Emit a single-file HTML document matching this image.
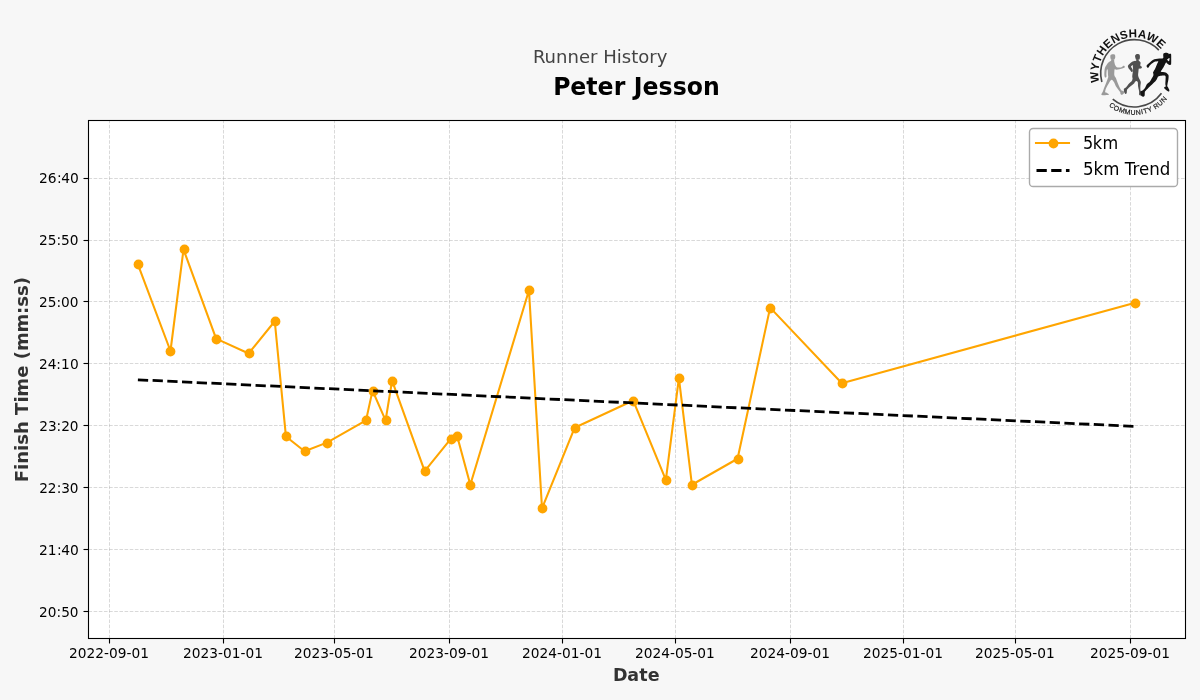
<!DOCTYPE html>
<html lang="en"><head><meta charset="utf-8"><title>Runner History - Peter Jesson</title>
<style>html,body{margin:0;padding:0;background:#f7f7f7;overflow:hidden}body{width:1200px;height:700px}svg{display:block;position:absolute;left:0;top:0}text{font-family:'DejaVu Sans','Liberation Sans',sans-serif}</style></head><body>
<svg width="1200" height="700" viewBox="0 0 1200 700">
<rect x="0" y="0" width="1200" height="700" fill="#f7f7f7"/>
<rect x="88.5" y="120.5" width="1097" height="518" fill="#ffffff"/>
<g id="grid" fill="none" stroke="#b0b0b0" stroke-opacity="0.5" stroke-width="0.97" stroke-dasharray="3.5972 1.5556">
<path d="M109.5 638.5 V120.5"/>
<path d="M223.5 638.5 V120.5"/>
<path d="M334.5 638.5 V120.5"/>
<path d="M449.5 638.5 V120.5"/>
<path d="M562.5 638.5 V120.5"/>
<path d="M675.5 638.5 V120.5"/>
<path d="M790.5 638.5 V120.5"/>
<path d="M903.5 638.5 V120.5"/>
<path d="M1015.5 638.5 V120.5"/>
<path d="M1130.5 638.5 V120.5"/>
<path d="M88.5 178.5 H1185.5"/>
<path d="M88.5 240.5 H1185.5"/>
<path d="M88.5 301.5 H1185.5"/>
<path d="M88.5 363.5 H1185.5"/>
<path d="M88.5 425.5 H1185.5"/>
<path d="M88.5 487.5 H1185.5"/>
<path d="M88.5 549.5 H1185.5"/>
<path d="M88.5 611.5 H1185.5"/>
</g>
<g id="ticks" stroke="#000" stroke-width="1.11" fill="none">
<path d="M109.5 638.64 v4.86"/>
<path d="M223.5 638.64 v4.86"/>
<path d="M334.5 638.64 v4.86"/>
<path d="M449.5 638.64 v4.86"/>
<path d="M562.5 638.64 v4.86"/>
<path d="M675.5 638.64 v4.86"/>
<path d="M790.5 638.64 v4.86"/>
<path d="M903.5 638.64 v4.86"/>
<path d="M1015.5 638.64 v4.86"/>
<path d="M1130.5 638.64 v4.86"/>
<path d="M88.36 178.5 h-4.86"/>
<path d="M88.36 240.5 h-4.86"/>
<path d="M88.36 301.5 h-4.86"/>
<path d="M88.36 363.5 h-4.86"/>
<path d="M88.36 425.5 h-4.86"/>
<path d="M88.36 487.5 h-4.86"/>
<path d="M88.36 549.5 h-4.86"/>
<path d="M88.36 611.5 h-4.86"/>
</g>
<g id="xticklabels">
<text transform="translate(69.05 658) scale(0.99 1)" font-size="13.89px" fill="#000">2022-09-01</text>
<text transform="translate(183.05 658) scale(0.99 1)" font-size="13.89px" fill="#000">2023-01-01</text>
<text transform="translate(293.98 658) scale(0.991 1)" font-size="13.89px" fill="#000" dx="0 0 0 0 0 0 0 -0.2 0 0">2023-05-01</text>
<text transform="translate(409.02 658) scale(0.99 1)" font-size="13.89px" fill="#000">2023-09-01</text>
<text transform="translate(522.02 658) scale(0.99 1)" font-size="13.89px" fill="#000">2024-01-01</text>
<text transform="translate(634.98 658) scale(0.991 1)" font-size="13.89px" fill="#000" dx="0 0 0 0 0 0 0 -0.2 0 0">2024-05-01</text>
<text transform="translate(750.02 658) scale(0.99 1)" font-size="13.89px" fill="#000">2024-09-01</text>
<text transform="translate(863.02 658) scale(0.99 1)" font-size="13.89px" fill="#000">2025-01-01</text>
<text transform="translate(974.98 658) scale(0.991 1)" font-size="13.89px" fill="#000" dx="0 0 0 0 0 0 0 -0.2 0 0">2025-05-01</text>
<text transform="translate(1090.05 658) scale(0.99 1)" font-size="13.89px" fill="#000">2025-09-01</text>
</g>
<g id="yticklabels">
<text transform="translate(38.92 183) scale(0.997 1)" font-size="13.89px" fill="#000" dx="0 0 0.4 -0.4 0">26:40</text>
<text transform="translate(38.92 245) scale(0.99 1)" font-size="13.89px" fill="#000" dx="0 0 0.2 -0.2 0">25:50</text>
<text transform="translate(39.05 307) scale(0.987 1)" font-size="13.89px" fill="#000" dx="0 -0.05 0 0 0">25:00</text>
<text transform="translate(38.95 369) scale(0.989 1)" font-size="13.89px" fill="#000" dx="0 0 -0.1 0 0.4">24:10</text>
<text transform="translate(39.15 431) scale(0.985 1)" font-size="13.89px" fill="#000" dx="0 0.2 -0.2 0 0">23:20</text>
<text transform="translate(39.15 493) scale(0.985 1)" font-size="13.89px" fill="#000" dx="0 0 0.2 -0.2 0">22:30</text>
<text transform="translate(38.92 555) scale(0.997 1)" font-size="13.89px" fill="#000" dx="0 0 0.4 -0.4 0">21:40</text>
<text transform="translate(39 617) scale(0.984 1)" font-size="13.89px" fill="#000" dx="0 0 0.2 0 0">20:50</text>
</g>
<g id="series">
<path d="M137.89 264.31 L170.48 351.00 L183.52 249.45 L216.11 338.61 L248.70 353.47 L274.77 321.27 L285.94 436.45 L304.57 451.31 L326.91 442.64 L366.02 420.35 L372.54 390.62 L385.58 420.35 L392.09 380.72 L424.68 471.12 L450.76 438.92 L457.27 436.45 L470.31 484.74 L528.97 290.31 L542.01 508.27 L574.60 427.78 L633.26 400.53 L665.85 479.79 L678.89 378.24 L691.92 484.74 L737.55 458.74 L770.14 307.65 L841.84 383.19 L1135.15 302.70" fill="none" stroke="#ffa500" stroke-width="2.08" stroke-linejoin="round" stroke-linecap="square"/>
<circle cx="138.5" cy="264.5" r="4.89" fill="#ffa500"/>
<circle cx="170.5" cy="351.5" r="4.89" fill="#ffa500"/>
<circle cx="184.5" cy="249.5" r="4.89" fill="#ffa500"/>
<circle cx="216.5" cy="339.5" r="4.89" fill="#ffa500"/>
<circle cx="249.5" cy="353.5" r="4.89" fill="#ffa500"/>
<circle cx="275.5" cy="321.5" r="4.89" fill="#ffa500"/>
<circle cx="286.5" cy="436.5" r="4.89" fill="#ffa500"/>
<circle cx="305.5" cy="451.5" r="4.89" fill="#ffa500"/>
<circle cx="327.5" cy="443.5" r="4.89" fill="#ffa500"/>
<circle cx="366.5" cy="420.5" r="4.89" fill="#ffa500"/>
<circle cx="373.5" cy="391.5" r="4.89" fill="#ffa500"/>
<circle cx="386.5" cy="420.5" r="4.89" fill="#ffa500"/>
<circle cx="392.5" cy="381.5" r="4.89" fill="#ffa500"/>
<circle cx="425.5" cy="471.5" r="4.89" fill="#ffa500"/>
<circle cx="451.5" cy="439.5" r="4.89" fill="#ffa500"/>
<circle cx="457.5" cy="436.5" r="4.89" fill="#ffa500"/>
<circle cx="470.5" cy="485.5" r="4.89" fill="#ffa500"/>
<circle cx="529.5" cy="290.5" r="4.89" fill="#ffa500"/>
<circle cx="542.5" cy="508.5" r="4.89" fill="#ffa500"/>
<circle cx="575.5" cy="428.5" r="4.89" fill="#ffa500"/>
<circle cx="633.5" cy="401.5" r="4.89" fill="#ffa500"/>
<circle cx="666.5" cy="480.5" r="4.89" fill="#ffa500"/>
<circle cx="679.5" cy="378.5" r="4.89" fill="#ffa500"/>
<circle cx="692.5" cy="485.5" r="4.89" fill="#ffa500"/>
<circle cx="738.5" cy="459.5" r="4.89" fill="#ffa500"/>
<circle cx="770.5" cy="308.5" r="4.89" fill="#ffa500"/>
<circle cx="842.5" cy="383.5" r="4.89" fill="#ffa500"/>
<circle cx="1135.5" cy="303.5" r="4.89" fill="#ffa500"/>
</g>
<path id="trend" d="M137.89 379.79 L1135.15 426.39" fill="none"  stroke="#000" stroke-width="2.78" stroke-dasharray="10.2778 4.4444"/>
<rect x="88.5" y="120.5" width="1097" height="518" fill="none" stroke="#000" stroke-width="1.1" stroke-linejoin="miter"/>
<g id="legend">
<rect x="1029.5" y="128.5" width="148" height="58" rx="3.6" ry="3.6" fill="#fff" stroke="#aaaaaa" stroke-width="1.39"/>
<path d="M1036 143 h33" stroke="#ffa500" stroke-width="2.08" stroke-linecap="square" fill="none"/>
<circle cx="1053.5" cy="143.5" r="4.89" fill="#ffa500"/>
<path d="M1036.5 170.5 h33" stroke="#000" stroke-width="2.78" stroke-dasharray="10.2778 4.4444" fill="none"/>
<text transform="translate(1082.95 149) scale(0.967 1.07)" font-size="16.67px" fill="#000" dx="0 -0.4 0.4">5km</text>
<text transform="translate(1083 175) scale(0.999 1.07)" font-size="16.67px" fill="#000">5km Trend</text>
</g>
<text transform="translate(533.05 63)" font-size="18.06px" fill="#444" dx="0 -0.2 0 0 0 0 0 0 0 0 0 0 0 0">Runner History</text>
<text transform="translate(553.25 95) scale(1 1.047)" font-size="23.6px" font-weight="bold" fill="#000" dx="0 -0.4 0 0 0.4 0 0 0 0 0.2 0 0">Peter Jesson</text>
<text transform="translate(612.92 681) scale(0.969 1)" font-size="18.06px" font-weight="bold" fill="#333" dx="0 -0.2 0.2 0.2">Date</text>
<text transform="translate(28 482.16) rotate(-90)" font-size="18.06px" font-weight="bold" fill="#333" dx="0 -0.15 0.05 -0.05 -0.05 0 0 0 0 -0.4 0.2 0 0 0 -0.4 -0.2 0 0 0">Finish Time (mm:ss)</text>
<g id="logo">
<defs>
<path id="arcTop" d="M1100.57 85.61 A36.00 36.00 0 0 1 1168.23 60.99"/>
<path id="arcBot" d="M1104.98 102.72 A41.60 41.60 0 0 0 1173.49 87.53"/>
</defs>
<path d="M1101.85 82.02 A33.70 33.70 0 0 1 1158.85 50.10" fill="none" stroke="#484848" stroke-width="1.65"/>
<path d="M1112.74 99.12 A33.70 33.70 0 0 0 1161.49 93.35" fill="none" stroke="#484848" stroke-width="1.65"/>
<g fill="#9a9a9a"><path d="M1110.50 55.36C1110.71 54.94 1111.01 54.63 1111.57 54.46C1112.14 54.30 1113.31 54.21 1113.89 54.36C1114.48 54.51 1114.85 54.80 1115.07 55.36C1115.29 55.91 1115.29 57.05 1115.21 57.68C1115.14 58.30 1114.81 58.75 1114.61 59.11C1114.40 59.46 1114.55 59.70 1114.00 59.82C1113.45 59.94 1111.86 60.03 1111.29 59.82C1110.71 59.61 1110.73 59.05 1110.57 58.57C1110.41 58.10 1110.33 57.50 1110.32 56.96C1110.31 56.43 1110.29 55.77 1110.50 55.36Z"/><path d="M1111.29 59.64C1110.79 59.82 1111.46 60.27 1111.04 60.71C1110.61 61.16 1109.49 61.58 1108.71 62.32C1107.94 63.07 1107.02 64.26 1106.39 65.18C1105.77 66.10 1105.29 66.82 1104.96 67.86C1104.64 68.90 1104.53 70.24 1104.43 71.43C1104.33 72.62 1104.33 74.17 1104.36 75.00C1104.39 75.83 1104.48 76.01 1104.61 76.43C1104.74 76.85 1104.90 77.35 1105.14 77.50C1105.38 77.65 1105.80 77.53 1106.04 77.32C1106.27 77.11 1106.51 76.70 1106.57 76.25C1106.63 75.80 1106.39 75.45 1106.39 74.64C1106.39 73.84 1106.45 72.32 1106.57 71.43C1106.69 70.54 1106.92 69.52 1107.11 69.29C1107.30 69.05 1107.57 69.05 1107.71 70.00C1107.86 70.95 1107.92 73.77 1108.00 75.00C1108.08 76.23 1108.48 76.07 1108.18 77.36C1107.88 78.64 1106.90 80.93 1106.21 82.71C1105.53 84.50 1104.67 86.52 1104.07 88.07C1103.48 89.62 1103.06 91.05 1102.64 92.00C1102.23 92.95 1101.72 93.28 1101.57 93.79C1101.42 94.29 1101.15 94.80 1101.75 95.04C1102.35 95.27 1103.98 95.24 1105.14 95.21C1106.30 95.18 1108.12 95.04 1108.71 94.86C1109.31 94.68 1109.07 94.50 1108.71 94.14C1108.36 93.79 1107.17 93.07 1106.57 92.71C1105.98 92.36 1105.20 92.77 1105.14 92.00C1105.08 91.23 1105.62 89.50 1106.21 88.07C1106.81 86.64 1107.82 84.80 1108.71 83.43C1109.61 82.06 1110.68 80.04 1111.57 79.86C1112.46 79.68 1113.36 81.29 1114.07 82.36C1114.79 83.43 1115.20 85.15 1115.86 86.29C1116.51 87.42 1117.29 88.19 1118.00 89.14C1118.71 90.10 1119.73 91.23 1120.14 92.00C1120.56 92.77 1120.26 93.31 1120.50 93.79C1120.74 94.26 1121.04 94.92 1121.57 94.86C1122.11 94.80 1123.24 93.96 1123.71 93.43C1124.19 92.89 1124.55 92.06 1124.43 91.64C1124.31 91.23 1123.54 91.17 1123.00 90.93C1122.46 90.69 1121.81 90.87 1121.21 90.21C1120.62 89.56 1120.02 88.25 1119.43 87.00C1118.83 85.75 1118.24 84.20 1117.64 82.71C1117.05 81.23 1116.39 79.26 1115.86 78.07C1115.32 76.88 1114.68 76.68 1114.43 75.57C1114.18 74.46 1114.30 72.48 1114.36 71.43C1114.42 70.38 1114.42 69.55 1114.79 69.29C1115.15 69.02 1115.80 69.82 1116.57 69.82C1117.35 69.82 1118.36 69.55 1119.43 69.29C1120.50 69.02 1122.18 68.45 1123.00 68.21C1123.82 67.98 1124.05 68.10 1124.36 67.86C1124.67 67.62 1124.90 67.13 1124.86 66.79C1124.81 66.44 1124.38 65.90 1124.07 65.79C1123.76 65.67 1123.36 65.88 1123.00 66.07C1122.64 66.26 1122.52 66.68 1121.93 66.93C1121.33 67.18 1120.29 67.52 1119.43 67.57C1118.57 67.62 1117.46 67.64 1116.75 67.21C1116.04 66.79 1115.56 65.96 1115.14 65.00C1114.73 64.04 1114.44 62.32 1114.25 61.43C1114.06 60.54 1114.49 59.94 1114.00 59.64C1113.51 59.35 1111.78 59.46 1111.29 59.64Z"/></g>
<g fill="#505050"><path d="M1135.29 55.36C1135.49 54.96 1135.82 54.44 1136.29 54.21C1136.75 53.99 1137.52 53.90 1138.07 54.00C1138.62 54.10 1139.26 54.36 1139.57 54.82C1139.88 55.29 1139.91 56.13 1139.93 56.79C1139.95 57.44 1139.87 58.24 1139.68 58.75C1139.49 59.26 1139.35 59.64 1138.79 59.82C1138.22 60.00 1136.83 60.09 1136.29 59.82C1135.74 59.55 1135.70 58.75 1135.50 58.21C1135.30 57.68 1135.11 57.08 1135.07 56.61C1135.04 56.13 1135.08 55.76 1135.29 55.36Z"/><path d="M1136.29 60.18C1135.82 60.26 1136.54 60.41 1135.93 60.64C1135.32 60.87 1133.68 61.06 1132.64 61.57C1131.61 62.08 1130.50 63.02 1129.71 63.71C1128.93 64.40 1128.14 65.00 1127.93 65.71C1127.71 66.43 1128.01 67.19 1128.43 68.00C1128.85 68.81 1129.90 69.90 1130.43 70.57C1130.95 71.24 1131.19 71.83 1131.57 72.00C1131.95 72.17 1132.52 71.95 1132.71 71.57C1132.90 71.19 1132.89 70.33 1132.71 69.71C1132.54 69.10 1131.94 68.35 1131.64 67.86C1131.35 67.37 1130.92 67.15 1130.93 66.79C1130.94 66.42 1131.43 65.89 1131.71 65.64C1132.00 65.39 1132.42 64.56 1132.64 65.29C1132.87 66.01 1133.12 68.38 1133.07 70.00C1133.02 71.62 1132.49 73.77 1132.36 75.00C1132.23 76.23 1132.25 76.79 1132.29 77.36C1132.32 77.93 1132.67 77.82 1132.57 78.43C1132.48 79.04 1132.33 80.11 1131.71 81.00C1131.10 81.89 1129.75 82.79 1128.86 83.79C1127.96 84.79 1127.05 86.27 1126.36 87.00C1125.67 87.73 1125.12 87.87 1124.71 88.14C1124.31 88.42 1124.07 88.30 1123.93 88.64C1123.79 88.99 1123.77 89.57 1123.86 90.21C1123.94 90.86 1124.15 91.86 1124.43 92.50C1124.70 93.14 1125.13 93.94 1125.50 94.07C1125.87 94.20 1126.40 93.85 1126.64 93.29C1126.88 92.73 1126.81 91.37 1126.93 90.71C1127.05 90.06 1126.75 90.10 1127.36 89.36C1127.96 88.62 1129.51 87.21 1130.57 86.29C1131.63 85.36 1132.86 84.64 1133.71 83.79C1134.57 82.93 1135.05 81.44 1135.71 81.14C1136.38 80.85 1137.32 81.14 1137.71 82.00C1138.11 82.86 1137.89 84.98 1138.07 86.29C1138.25 87.60 1138.61 88.90 1138.79 89.86C1138.96 90.81 1139.08 91.17 1139.14 92.00C1139.20 92.83 1138.90 94.26 1139.14 94.86C1139.38 95.45 1139.92 95.45 1140.57 95.57C1141.23 95.69 1142.60 95.69 1143.07 95.57C1143.55 95.45 1143.61 95.37 1143.43 94.86C1143.25 94.35 1142.48 93.21 1142.00 92.50C1141.52 91.79 1140.84 91.61 1140.57 90.57C1140.30 89.54 1140.36 87.71 1140.39 86.29C1140.42 84.86 1140.96 83.31 1140.75 82.00C1140.54 80.69 1139.58 79.50 1139.14 78.43C1138.71 77.36 1138.26 76.74 1138.14 75.57C1138.02 74.40 1138.32 72.58 1138.43 71.43C1138.54 70.27 1138.55 69.11 1138.79 68.64C1139.02 68.18 1139.41 68.70 1139.86 68.64C1140.30 68.58 1141.12 68.54 1141.46 68.29C1141.80 68.04 1141.92 67.48 1141.89 67.14C1141.86 66.80 1141.55 66.54 1141.29 66.25C1141.02 65.96 1140.40 66.05 1140.29 65.43C1140.17 64.80 1140.81 63.29 1140.57 62.50C1140.33 61.71 1139.17 61.10 1138.86 60.71C1138.55 60.33 1139.14 60.27 1138.71 60.18C1138.29 60.09 1136.75 60.10 1136.29 60.18Z"/></g>
<g fill="#141414"><path fill-rule="evenodd" d="M1163.21 55.36C1163.24 54.64 1163.17 54.14 1163.39 53.75C1163.61 53.36 1163.87 53.14 1164.54 53.00C1165.20 52.86 1166.70 52.81 1167.39 52.93C1168.09 53.05 1168.46 53.42 1168.71 53.71C1168.97 54.01 1168.86 54.68 1168.93 54.71C1169.00 54.75 1168.85 54.07 1169.14 53.93C1169.44 53.79 1170.38 53.71 1170.71 53.86C1171.05 54.01 1171.06 53.98 1171.14 54.82C1171.23 55.67 1171.21 57.40 1171.21 58.93C1171.21 60.46 1171.26 63.02 1171.14 64.00C1171.02 64.98 1170.86 64.71 1170.50 64.82C1170.14 64.93 1169.55 64.88 1169.00 64.64C1168.45 64.41 1167.70 63.79 1167.21 63.43C1166.73 63.07 1166.58 62.09 1166.07 62.50C1165.57 62.91 1164.85 64.73 1164.18 65.89C1163.51 67.05 1162.60 68.54 1162.04 69.46C1161.47 70.39 1160.58 70.99 1160.79 71.43C1160.99 71.86 1162.39 71.85 1163.29 72.07C1164.18 72.30 1165.48 72.49 1166.14 72.79C1166.81 73.08 1166.88 73.39 1167.29 73.86C1167.69 74.32 1168.39 74.57 1168.57 75.57C1168.75 76.57 1168.54 78.43 1168.36 79.86C1168.18 81.29 1167.68 83.07 1167.50 84.14C1167.32 85.21 1167.18 85.71 1167.29 86.29C1167.39 86.86 1167.79 86.86 1168.14 87.57C1168.50 88.29 1169.36 89.93 1169.43 90.57C1169.50 91.21 1169.07 91.50 1168.57 91.43C1168.07 91.36 1167.18 90.71 1166.43 90.14C1165.68 89.57 1164.36 88.54 1164.07 88.00C1163.79 87.46 1164.43 87.21 1164.71 86.93C1165.00 86.64 1165.68 86.75 1165.79 86.29C1165.89 85.82 1165.39 85.29 1165.36 84.14C1165.32 83.00 1165.54 80.71 1165.57 79.43C1165.61 78.14 1165.79 77.07 1165.57 76.43C1165.36 75.79 1165.00 75.68 1164.29 75.57C1163.57 75.46 1162.29 75.64 1161.29 75.79C1160.29 75.93 1158.91 76.12 1158.29 76.43C1157.66 76.74 1157.90 76.96 1157.51 77.63C1157.13 78.30 1156.84 79.36 1155.97 80.46C1155.10 81.56 1153.53 83.01 1152.29 84.23C1151.04 85.44 1149.64 86.61 1148.51 87.74C1147.39 88.87 1146.13 90.28 1145.51 91.00C1144.90 91.72 1144.97 91.32 1144.83 92.07C1144.69 92.82 1144.88 94.74 1144.66 95.50C1144.44 96.26 1144.05 96.64 1143.50 96.66C1142.95 96.68 1141.88 96.32 1141.36 95.63C1140.84 94.94 1140.44 93.23 1140.37 92.50C1140.30 91.77 1140.47 91.68 1140.93 91.26C1141.39 90.84 1142.39 90.61 1143.11 89.97C1143.84 89.33 1144.61 88.39 1145.26 87.40C1145.90 86.41 1146.19 85.04 1146.97 84.06C1147.76 83.07 1149.19 82.41 1149.97 81.49C1150.76 80.56 1151.11 79.54 1151.69 78.49C1152.26 77.43 1153.17 76.13 1153.40 75.14C1153.63 74.16 1153.05 73.13 1153.06 72.57C1153.06 72.01 1153.07 72.45 1153.43 71.79C1153.79 71.12 1154.62 69.82 1155.21 68.57C1155.81 67.32 1156.51 65.49 1157.00 64.29C1157.49 63.08 1158.49 61.81 1158.18 61.36C1157.87 60.90 1156.12 61.26 1155.14 61.57C1154.17 61.88 1153.26 62.50 1152.32 63.21C1151.38 63.93 1150.07 65.18 1149.50 65.86C1148.93 66.54 1149.21 66.99 1148.89 67.29C1148.57 67.58 1147.95 67.77 1147.57 67.64C1147.20 67.51 1146.75 66.95 1146.64 66.50C1146.54 66.05 1146.55 65.48 1146.93 64.93C1147.31 64.38 1148.18 63.89 1148.93 63.21C1149.68 62.54 1150.53 61.57 1151.43 60.89C1152.33 60.22 1153.30 59.54 1154.32 59.18C1155.35 58.82 1156.43 58.81 1157.57 58.71C1158.71 58.62 1160.20 58.71 1161.14 58.61C1162.08 58.50 1162.87 58.61 1163.21 58.07C1163.56 57.53 1163.18 56.08 1163.21 55.36Z M1167.14 59.57C1167.37 59.14 1168.82 58.01 1169.21 57.93C1169.61 57.85 1169.54 58.57 1169.50 59.11C1169.46 59.64 1169.27 60.90 1169.00 61.14C1168.73 61.38 1168.17 60.80 1167.86 60.54C1167.55 60.27 1166.92 60.01 1167.14 59.57Z"/></g>
<text font-size="11.6px" font-weight="bold" fill="#111" letter-spacing="0.28" style="font-family:'Liberation Sans','DejaVu Sans',sans-serif"><textPath href="#arcTop" startOffset="3.5">WYTHENSHAWE</textPath></text>
<text font-size="6.9px" fill="#222" stroke="#222" stroke-width="0.22" letter-spacing="0.48" style="font-family:'Liberation Sans','DejaVu Sans',sans-serif"><textPath href="#arcBot" startOffset="5">COMMUNITY RUN</textPath></text>
</g>
</svg>
</body></html>
